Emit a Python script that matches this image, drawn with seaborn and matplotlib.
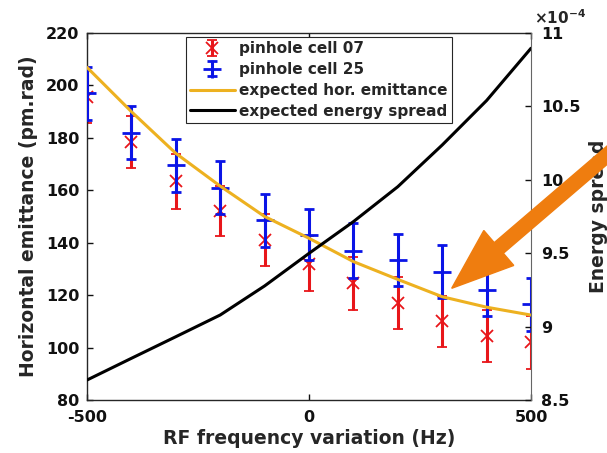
import numpy as np
import pandas as pd
import matplotlib
matplotlib.use("Agg")
import matplotlib.pyplot as plt
import seaborn as sns
from matplotlib.patches import FancyArrow

# ---- data ----
rf_freq = [-500, -400, -300, -200, -100, 0, 100, 200, 300, 400, 500]
cell07_mean = [195.5, 178.5, 163.5, 152.0, 141.0, 132.0, 124.5, 117.0, 110.0, 104.5, 102.0]
cell07_err = [10.0, 10.0, 10.5, 9.5, 10.0, 10.5, 10.0, 10.0, 9.7, 10.0, 10.0]
cell25_mean = [197.0, 182.0, 169.5, 161.0, 148.5, 143.0, 137.0, 133.5, 129.0, 122.0, 116.5]
cell25_err = [10.0, 10.0, 10.0, 10.0, 10.0, 9.7, 10.5, 10.0, 10.0, 10.0, 10.0]
expected_emit = [206.9, 190.0, 174.1, 161.6, 150.0, 141.7, 132.8, 126.0, 119.4, 115.4, 112.4]
energy_spread_e4 = [8.636, 8.784, 8.931, 9.079, 9.277, 9.499, 9.715, 9.953, 10.237, 10.54, 10.896]

x_ticks = [-500, 0, 500]
y_ticks = [80, 100, 120, 140, 160, 180, 200, 220]
y2_ticks = [8.5, 9, 9.5, 10, 10.5, 11]
y2_ticklabels = ["8.5", "9", "9.5", "10", "10.5", "11"]

df = pd.DataFrame({"f": rf_freq, "emit": expected_emit, "es": energy_spread_e4})

sns.set_style("white")
plt.rcParams["font.family"] = ["DejaVu Sans"]
plt.rcParams["font.weight"] = "bold"

W, H = 607, 453
fig = plt.figure(figsize=(W / 100, H / 100), dpi=100)
L, R, T, B = 87, 531, 33, 400
ax = fig.add_axes([L / W, 1 - B / H, (R - L) / W, (B - T) / H])
ax2 = ax.twinx()

red = "#E8161A"
blue = "#0A14E6"
gold = "#EDB120"

ax.errorbar(rf_freq, cell07_mean, yerr=cell07_err, fmt="x", color=red, ecolor=red,
            elinewidth=2.2, capsize=3.6, capthick=2.2, markersize=9, mew=1.3,
            label="pinhole cell 07", zorder=2)
ax.errorbar(rf_freq, cell25_mean, yerr=cell25_err, fmt="+", color=blue, ecolor=blue,
            elinewidth=2.2, capsize=3.6, capthick=2.2, markersize=13, mew=2.0,
            label="pinhole cell 25", zorder=3)
sns.lineplot(data=df, x="f", y="emit", ax=ax, color=gold, linewidth=2.2,
             label="expected hor. emittance", zorder=4)
sns.lineplot(data=df, x="f", y="es", ax=ax2, color="black", linewidth=2.2,
             label="expected energy spread", legend=False)

ax.set_xlim(-500, 500)
ax.set_ylim(80, 220)
ax2.set_ylim(8.5, 11)
ax.set_xticks(x_ticks)
ax.set_xticklabels([str(v) for v in x_ticks])
ax.set_yticks(y_ticks)
ax2.set_yticks(y2_ticks)
ax2.set_yticklabels(y2_ticklabels)

for a in (ax, ax2):
    a.tick_params(direction="in", length=4, width=1, labelsize=11.5, colors="#111111")
ax.tick_params(axis="x", top=True, bottom=True, pad=7)
ax.tick_params(axis="y", left=True, right=False, pad=5.5)
ax2.tick_params(axis="y", right=True, left=False, pad=7.5)
for lab in ax.get_xticklabels() + ax.get_yticklabels() + ax2.get_yticklabels():
    lab.set_fontweight("bold")

for s in ax.spines.values():
    s.set_color("#262626"); s.set_linewidth(1.0)
for s in ax2.spines.values():
    s.set_visible(False)
ax2.spines["right"].set_visible(True)
ax2.spines["right"].set_color("#666666")
ax.spines["right"].set_visible(False)

ax.set_xlabel("RF frequency variation (Hz)", fontsize=13.5, fontweight="bold", labelpad=3)
ax.set_ylabel("Horizontal emittance (pm.rad)", fontsize=13.5, fontweight="bold", labelpad=6)
ax2.set_ylabel("")

# legend combining both axes, in reference order
h2, l2 = ax2.get_legend_handles_labels()
h1, l1 = ax.get_legend_handles_labels()
hmap = dict(zip(l1 + l2, h1 + h2))
order = ["pinhole cell 07", "pinhole cell 25", "expected hor. emittance", "expected energy spread"]
if ax.get_legend() is not None:
    ax.get_legend().remove()
leg = ax.legend([hmap[k] for k in order], order, loc="upper left",
                bbox_to_anchor=(0.2223, 0.99), borderaxespad=0, fancybox=False,
                framealpha=1, edgecolor="#262626",
                prop={"weight": "bold", "size": 11}, handlelength=2.9,
                labelspacing=0.38, borderpad=0.3, handletextpad=0.26)
leg.get_frame().set_linewidth(0.8)
leg.set_zorder(10)

# offset label and right label
fig.text(534 / W, 1 - 24 / H, r"$\times\mathbf{10^{-4}}$", fontsize=11, ha="left", va="baseline")
fig.text(599 / W, 1 - 216.5 / H, "Energy spread", rotation=90, fontsize=13.5,
         fontweight="bold", ha="center", va="center")

# big orange arrow (pixels -> inches)
tail = (640, 127)
tip = (451.7, 288.3)
tx, ty = tail[0] / 100, (H - tail[1]) / 100
px, py = tip[0] / 100, (H - tip[1]) / 100
arrow = FancyArrow(tx, ty, px - tx, py - ty, width=0.14, head_width=0.46,
                   head_length=0.62, length_includes_head=True,
                   color="#EF7D0F", transform=fig.dpi_scale_trans, clip_on=False,
                   zorder=20)
fig.add_artist(arrow)

fig.savefig("out.png", dpi=100)
